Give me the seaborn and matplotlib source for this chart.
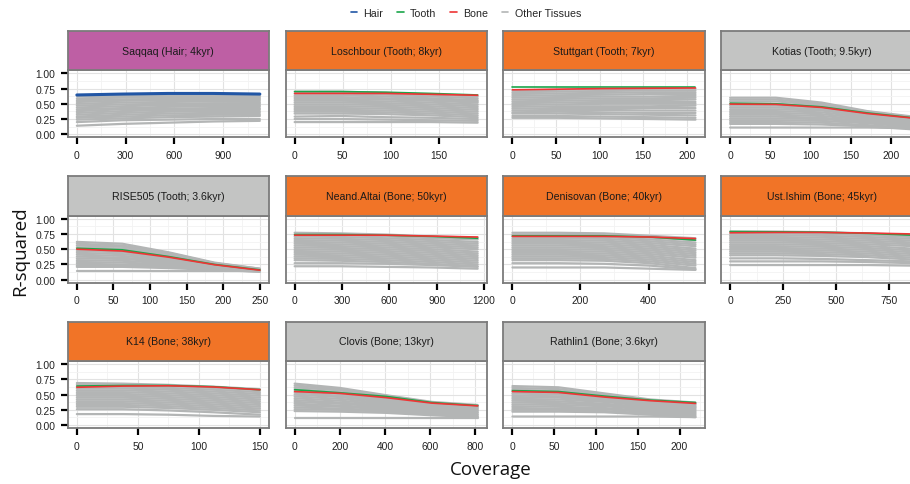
import pandas as pd
import seaborn as sns
import matplotlib.pyplot as plt
from matplotlib.lines import Line2D
from matplotlib.ticker import MultipleLocator, AutoMinorLocator

# panel labels, strip colours and x tick spacing
titles = [
    "Saqqaq (Hair; 4kyr)", "Loschbour (Tooth; 8kyr)", "Stuttgart (Tooth; 7kyr)",
    "Kotias (Tooth; 9.5kyr)", "RISE505 (Tooth; 3.6kyr)", "Neand.Altai (Bone; 50kyr)",
    "Denisovan (Bone; 40kyr)", "Ust.Ishim (Bone; 45kyr)", "K14 (Bone; 38kyr)",
    "Clovis (Bone; 13kyr)", "Rathlin1 (Bone; 3.6kyr)",
]
strip_kind = ["hair", "match", "match", "other", "other", "match",
              "match", "match", "match", "other", "other"]
x_step = [300, 50, 50, 50, 50, 300, 200, 250, 50, 200, 50]

# coverage grid of each panel
cov_saqqaq = [0, 280, 560, 840, 1125]
cov_loschbour = [0, 48, 95, 142, 190]
cov_stuttgart = [0, 52, 105, 158, 210]
cov_kotias = [0, 57, 114, 171, 228]
cov_rise505 = [0, 62, 125, 188, 250]
cov_altai = [0, 290, 580, 870, 1160]
cov_denisovan = [0, 135, 270, 405, 538]
cov_ishim = [0, 215, 430, 650, 865]
cov_k14 = [0, 38, 75, 112, 150]
cov_clovis = [0, 200, 405, 608, 810]
cov_rathlin = [0, 55, 110, 165, 219]

# R-squared of the highlighted sample types
hair_saqqaq = [0.645, 0.66, 0.67, 0.67, 0.66]
tooth_loschbour = [0.70, 0.70, 0.69, 0.67, 0.645]
bone_loschbour = [0.67, 0.67, 0.67, 0.655, 0.64]
tooth_stuttgart = [0.77, 0.77, 0.77, 0.77, 0.77]
bone_stuttgart = [0.73, 0.74, 0.75, 0.755, 0.76]
tooth_kotias = [0.51, 0.50, 0.45, 0.35, 0.27]
bone_kotias = [0.495, 0.49, 0.44, 0.34, 0.265]
tooth_rise505 = [0.515, 0.49, 0.38, 0.25, 0.16]
bone_rise505 = [0.50, 0.47, 0.37, 0.245, 0.155]
tooth_altai = [0.74, 0.74, 0.73, 0.71, 0.68]
bone_altai = [0.73, 0.73, 0.73, 0.715, 0.70]
tooth_denisovan = [0.72, 0.72, 0.72, 0.70, 0.65]
bone_denisovan = [0.71, 0.71, 0.71, 0.70, 0.675]
tooth_ishim = [0.79, 0.785, 0.78, 0.76, 0.73]
bone_ishim = [0.77, 0.775, 0.775, 0.765, 0.75]
tooth_k14 = [0.64, 0.65, 0.65, 0.63, 0.58]
bone_k14 = [0.62, 0.64, 0.645, 0.625, 0.58]
tooth_clovis = [0.58, 0.53, 0.47, 0.37, 0.32]
bone_clovis = [0.55, 0.52, 0.45, 0.36, 0.315]
tooth_rathlin = [0.565, 0.55, 0.475, 0.41, 0.37]
bone_rathlin = [0.55, 0.535, 0.46, 0.40, 0.355]

# other tissues (one row per sample)
other_saqqaq = [
    [0.62, 0.62, 0.62, 0.62, 0.62], [0.59, 0.60, 0.60, 0.60, 0.60],
    [0.56, 0.57, 0.58, 0.58, 0.58], [0.53, 0.55, 0.56, 0.56, 0.56],
    [0.50, 0.52, 0.53, 0.54, 0.53], [0.47, 0.49, 0.50, 0.51, 0.51],
    [0.44, 0.46, 0.48, 0.48, 0.48], [0.41, 0.43, 0.45, 0.46, 0.46],
    [0.38, 0.41, 0.42, 0.43, 0.43], [0.35, 0.38, 0.40, 0.40, 0.41],
    [0.32, 0.35, 0.37, 0.38, 0.38], [0.29, 0.32, 0.34, 0.35, 0.35],
    [0.27, 0.29, 0.31, 0.32, 0.32], [0.24, 0.26, 0.28, 0.29, 0.30],
    [0.20, 0.23, 0.24, 0.25, 0.25], [0.14, 0.17, 0.19, 0.21, 0.22],
]
other_loschbour = [
    [0.70, 0.70, 0.68, 0.65, 0.62], [0.67, 0.67, 0.65, 0.62, 0.59],
    [0.64, 0.64, 0.62, 0.59, 0.56], [0.61, 0.61, 0.59, 0.57, 0.54],
    [0.58, 0.58, 0.57, 0.55, 0.52], [0.55, 0.55, 0.54, 0.52, 0.49],
    [0.52, 0.52, 0.51, 0.49, 0.46], [0.49, 0.49, 0.48, 0.46, 0.43],
    [0.46, 0.46, 0.45, 0.43, 0.40], [0.43, 0.43, 0.42, 0.40, 0.37],
    [0.40, 0.40, 0.39, 0.37, 0.34], [0.37, 0.37, 0.36, 0.34, 0.31],
    [0.34, 0.34, 0.33, 0.31, 0.28], [0.29, 0.30, 0.28, 0.27, 0.25],
    [0.25, 0.25, 0.24, 0.23, 0.22], [0.20, 0.20, 0.20, 0.20, 0.19],
]
other_stuttgart = [
    [0.72, 0.73, 0.74, 0.75, 0.75], [0.69, 0.70, 0.71, 0.72, 0.72],
    [0.66, 0.67, 0.68, 0.69, 0.69], [0.63, 0.64, 0.65, 0.66, 0.66],
    [0.60, 0.61, 0.62, 0.62, 0.63], [0.57, 0.58, 0.59, 0.59, 0.60],
    [0.54, 0.55, 0.56, 0.56, 0.57], [0.51, 0.52, 0.53, 0.53, 0.53],
    [0.48, 0.49, 0.50, 0.50, 0.50], [0.45, 0.46, 0.46, 0.46, 0.47],
    [0.42, 0.43, 0.43, 0.43, 0.43], [0.39, 0.40, 0.40, 0.39, 0.39],
    [0.36, 0.37, 0.36, 0.35, 0.35], [0.34, 0.34, 0.33, 0.32, 0.31],
    [0.30, 0.30, 0.29, 0.28, 0.27], [0.27, 0.27, 0.26, 0.25, 0.24],
]
other_kotias = [
    [0.60, 0.60, 0.52, 0.38, 0.29], [0.57, 0.57, 0.50, 0.37, 0.28],
    [0.54, 0.54, 0.48, 0.36, 0.27], [0.50, 0.50, 0.46, 0.35, 0.26],
    [0.47, 0.47, 0.44, 0.33, 0.25], [0.44, 0.44, 0.41, 0.32, 0.24],
    [0.41, 0.41, 0.39, 0.30, 0.22], [0.38, 0.38, 0.36, 0.28, 0.21],
    [0.35, 0.35, 0.33, 0.26, 0.19], [0.32, 0.32, 0.30, 0.24, 0.18],
    [0.29, 0.29, 0.27, 0.22, 0.16], [0.26, 0.26, 0.25, 0.20, 0.14],
    [0.23, 0.23, 0.22, 0.18, 0.12], [0.20, 0.20, 0.19, 0.15, 0.10],
    [0.17, 0.17, 0.16, 0.13, 0.08], [0.11, 0.11, 0.11, 0.11, 0.10],
]
other_rise505 = [
    [0.62, 0.59, 0.45, 0.28, 0.18], [0.59, 0.56, 0.44, 0.27, 0.18],
    [0.56, 0.54, 0.42, 0.27, 0.17], [0.53, 0.51, 0.41, 0.26, 0.17],
    [0.50, 0.48, 0.39, 0.25, 0.17], [0.47, 0.45, 0.37, 0.25, 0.16],
    [0.44, 0.42, 0.35, 0.24, 0.16], [0.41, 0.39, 0.33, 0.23, 0.16],
    [0.38, 0.36, 0.31, 0.22, 0.15], [0.35, 0.34, 0.29, 0.21, 0.15],
    [0.32, 0.31, 0.27, 0.20, 0.15], [0.29, 0.28, 0.25, 0.19, 0.14],
    [0.26, 0.25, 0.23, 0.18, 0.14], [0.23, 0.23, 0.21, 0.17, 0.13],
    [0.21, 0.21, 0.19, 0.16, 0.13], [0.135, 0.135, 0.135, 0.135, 0.135],
]
other_altai = [
    [0.77, 0.76, 0.74, 0.71, 0.69], [0.74, 0.73, 0.71, 0.68, 0.66],
    [0.71, 0.70, 0.68, 0.65, 0.62], [0.68, 0.67, 0.65, 0.62, 0.59],
    [0.65, 0.64, 0.62, 0.59, 0.56], [0.62, 0.61, 0.59, 0.56, 0.53],
    [0.59, 0.58, 0.56, 0.53, 0.50], [0.56, 0.55, 0.53, 0.50, 0.46],
    [0.53, 0.52, 0.50, 0.47, 0.43], [0.50, 0.49, 0.47, 0.44, 0.40],
    [0.47, 0.46, 0.44, 0.41, 0.37], [0.44, 0.43, 0.41, 0.38, 0.34],
    [0.41, 0.40, 0.38, 0.35, 0.31], [0.38, 0.37, 0.35, 0.32, 0.28],
    [0.35, 0.34, 0.32, 0.29, 0.25], [0.32, 0.31, 0.29, 0.26, 0.22],
    [0.27, 0.27, 0.26, 0.24, 0.21], [0.22, 0.22, 0.21, 0.20, 0.18],
]
other_denisovan = [
    [0.77, 0.77, 0.76, 0.72, 0.68], [0.74, 0.74, 0.73, 0.69, 0.65],
    [0.71, 0.71, 0.70, 0.66, 0.61], [0.68, 0.68, 0.67, 0.63, 0.58],
    [0.65, 0.65, 0.64, 0.60, 0.55], [0.62, 0.62, 0.61, 0.57, 0.51],
    [0.59, 0.59, 0.58, 0.54, 0.48], [0.56, 0.56, 0.55, 0.51, 0.45],
    [0.53, 0.53, 0.52, 0.48, 0.42], [0.50, 0.50, 0.49, 0.45, 0.39],
    [0.47, 0.47, 0.46, 0.42, 0.36], [0.44, 0.44, 0.43, 0.39, 0.32],
    [0.41, 0.41, 0.40, 0.36, 0.29], [0.38, 0.38, 0.37, 0.33, 0.26],
    [0.35, 0.35, 0.34, 0.30, 0.23], [0.32, 0.32, 0.31, 0.27, 0.19],
    [0.27, 0.27, 0.26, 0.23, 0.17], [0.20, 0.20, 0.20, 0.18, 0.16],
]
other_ishim = [
    [0.79, 0.79, 0.78, 0.76, 0.73], [0.76, 0.76, 0.75, 0.73, 0.70],
    [0.73, 0.73, 0.72, 0.70, 0.67], [0.70, 0.70, 0.69, 0.67, 0.64],
    [0.67, 0.67, 0.66, 0.64, 0.61], [0.64, 0.64, 0.63, 0.61, 0.58],
    [0.61, 0.61, 0.60, 0.58, 0.55], [0.58, 0.58, 0.57, 0.55, 0.51],
    [0.55, 0.55, 0.54, 0.52, 0.48], [0.52, 0.52, 0.51, 0.49, 0.45],
    [0.49, 0.49, 0.48, 0.46, 0.42], [0.46, 0.46, 0.45, 0.43, 0.39],
    [0.43, 0.43, 0.42, 0.40, 0.36], [0.40, 0.40, 0.39, 0.37, 0.33],
    [0.35, 0.35, 0.34, 0.32, 0.30], [0.30, 0.30, 0.30, 0.29, 0.27],
    [0.24, 0.24, 0.24, 0.24, 0.23],
]
other_k14 = [
    [0.69, 0.68, 0.66, 0.63, 0.59], [0.66, 0.65, 0.64, 0.61, 0.57],
    [0.63, 0.62, 0.61, 0.58, 0.54], [0.60, 0.60, 0.58, 0.55, 0.51],
    [0.57, 0.57, 0.55, 0.52, 0.48], [0.54, 0.54, 0.52, 0.49, 0.45],
    [0.51, 0.51, 0.49, 0.46, 0.42], [0.48, 0.48, 0.46, 0.43, 0.39],
    [0.45, 0.45, 0.43, 0.40, 0.36], [0.42, 0.42, 0.40, 0.37, 0.33],
    [0.39, 0.39, 0.37, 0.34, 0.30], [0.36, 0.36, 0.34, 0.31, 0.27],
    [0.33, 0.33, 0.31, 0.28, 0.24], [0.30, 0.30, 0.28, 0.25, 0.21],
    [0.26, 0.26, 0.24, 0.21, 0.17], [0.18, 0.18, 0.17, 0.15, 0.14],
]
other_clovis = [
    [0.68, 0.61, 0.49, 0.38, 0.33], [0.65, 0.59, 0.48, 0.37, 0.32],
    [0.62, 0.57, 0.46, 0.36, 0.31], [0.59, 0.54, 0.44, 0.35, 0.30],
    [0.56, 0.51, 0.42, 0.33, 0.29], [0.53, 0.48, 0.40, 0.31, 0.27],
    [0.50, 0.46, 0.38, 0.30, 0.26], [0.47, 0.43, 0.36, 0.28, 0.24],
    [0.44, 0.40, 0.34, 0.27, 0.23], [0.41, 0.37, 0.32, 0.25, 0.21],
    [0.38, 0.35, 0.30, 0.24, 0.20], [0.35, 0.32, 0.28, 0.22, 0.18],
    [0.32, 0.30, 0.26, 0.21, 0.17], [0.29, 0.27, 0.24, 0.19, 0.15],
    [0.26, 0.25, 0.22, 0.18, 0.14], [0.23, 0.22, 0.20, 0.16, 0.13],
    [0.12, 0.12, 0.12, 0.12, 0.12],
]
other_rathlin = [
    [0.64, 0.62, 0.52, 0.42, 0.37], [0.61, 0.59, 0.50, 0.41, 0.36],
    [0.58, 0.56, 0.48, 0.39, 0.35], [0.55, 0.53, 0.46, 0.38, 0.34],
    [0.52, 0.50, 0.44, 0.36, 0.32], [0.49, 0.47, 0.42, 0.34, 0.30],
    [0.46, 0.45, 0.40, 0.33, 0.29], [0.43, 0.42, 0.38, 0.31, 0.27],
    [0.40, 0.39, 0.35, 0.29, 0.25], [0.37, 0.36, 0.33, 0.27, 0.23],
    [0.34, 0.33, 0.31, 0.25, 0.21], [0.31, 0.30, 0.28, 0.23, 0.19],
    [0.28, 0.27, 0.26, 0.21, 0.17], [0.25, 0.25, 0.23, 0.19, 0.15],
    [0.22, 0.22, 0.21, 0.17, 0.13], [0.14, 0.14, 0.14, 0.14, 0.13],
]

coverages = [cov_saqqaq, cov_loschbour, cov_stuttgart, cov_kotias, cov_rise505,
             cov_altai, cov_denisovan, cov_ishim, cov_k14, cov_clovis, cov_rathlin]
others = [other_saqqaq, other_loschbour, other_stuttgart, other_kotias, other_rise505,
          other_altai, other_denisovan, other_ishim, other_k14, other_clovis, other_rathlin]
hair = [hair_saqqaq] + [None] * 10
tooth = [None, tooth_loschbour, tooth_stuttgart, tooth_kotias, tooth_rise505, tooth_altai,
         tooth_denisovan, tooth_ishim, tooth_k14, tooth_clovis, tooth_rathlin]
bone = [None, bone_loschbour, bone_stuttgart, bone_kotias, bone_rise505, bone_altai,
        bone_denisovan, bone_ishim, bone_k14, bone_clovis, bone_rathlin]

HAIR, TOOTH, BONE, GREY = "#2156A5", "#1AA64A", "#EE3535", "#B3B5B5"
STRIP = {"hair": "#BE5FA4", "match": "#F17427", "other": "#C3C4C3"}
BORDER = "#7B7B7B"

sns.set_theme(style="whitegrid")
plt.rcParams["font.family"] = ["Liberation Sans", "DejaVu Sans"]

W, H = 910, 485
fig = plt.figure(figsize=(W / 100, H / 100), dpi=100)
fig.patch.set_facecolor("white")

col_x = [67.7, 285.5, 503.3, 721.0]
row_top = [32.0, 177.4, 322.8]
panel_w, strip_h, panel_h = 201.3, 39.3, 67.0


def box(x, top, w, h):
    return [x / W, 1 - (top + h) / H, w / W, h / H]


for i, title in enumerate(titles):
    r, c = divmod(i, 4)
    ax = fig.add_axes(box(col_x[c], row_top[r] + strip_h, panel_w, panel_h))
    cov = coverages[i]
    long = pd.DataFrame(
        [(j, x, y) for j, row in enumerate(others[i]) for x, y in zip(cov, row)],
        columns=["sample", "coverage", "r2"],
    )
    sns.lineplot(data=long, x="coverage", y="r2", units="sample", estimator=None,
                 color=GREY, linewidth=1.6, ax=ax, legend=False)
    if hair[i] is not None:
        sns.lineplot(x=cov, y=hair[i], color=HAIR, linewidth=2.2, ax=ax)
    if tooth[i] is not None:
        sns.lineplot(x=cov, y=tooth[i], color=TOOTH, linewidth=1.2, ax=ax)
        sns.lineplot(x=cov, y=bone[i], color=BONE, linewidth=1.2, ax=ax)

    xmax = cov[-1]
    ax.set_xlim(-0.05 * xmax, 1.05 * xmax)
    ax.set_ylim(-0.05, 1.05)
    ax.xaxis.set_major_locator(MultipleLocator(x_step[i]))
    ax.xaxis.set_minor_locator(AutoMinorLocator(2))
    ax.yaxis.set_major_locator(MultipleLocator(0.25))
    ax.yaxis.set_minor_locator(AutoMinorLocator(2))
    ax.yaxis.set_major_formatter(lambda v, p: f"{v:.2f}")
    ax.set_facecolor("white")
    ax.grid(which="major", color="#E2E2E2", linewidth=0.8)
    ax.grid(which="minor", color="#F3F3F3", linewidth=0.6)
    ax.set_axisbelow(True)
    for s in ax.spines.values():
        s.set_color(BORDER)
        s.set_linewidth(1.3)
    ax.tick_params(which="major", direction="out", length=5, width=1.6, color="black",
                   labelsize=7.4, labelcolor="#222222", pad=4,
                   bottom=True, left=(c == 0), labelleft=(c == 0))
    ax.tick_params(which="minor", length=0)
    ax.set_xlabel("")
    ax.set_ylabel("")

    sax = fig.add_axes(box(col_x[c], row_top[r], panel_w, strip_h))
    sax.set_facecolor(STRIP[strip_kind[i]])
    sax.set_xticks([])
    sax.set_yticks([])
    sax.grid(False)
    for s in sax.spines.values():
        s.set_color(BORDER)
        s.set_linewidth(1.3)
    sax.text(0.5, 0.5, title, ha="center", va="center", fontsize=7.6,
             color="#1A1A1A", transform=sax.transAxes)

handles = [Line2D([], [], color=col, linewidth=1.2) for col in (HAIR, TOOTH, BONE, GREY)]
fig.legend(handles, ["Hair", "Tooth", "Bone", "Other Tissues"], loc="center",
           bbox_to_anchor=(0.512, 1 - 14 / H), ncol=4, frameon=False, fontsize=7.7,
           handlelength=0.6, handletextpad=0.6, columnspacing=1.3)

fig.text(20 / W, 1 - 251 / H, "R-squared", rotation=90, ha="center", va="center",
         fontsize=13.5, family="Open Sans", color="#111111")
fig.text(491 / W, 1 - 470 / H, "Coverage", ha="center", va="center",
         fontsize=13.5, family="Open Sans", color="#111111")

fig.savefig("out.png", dpi=100)
